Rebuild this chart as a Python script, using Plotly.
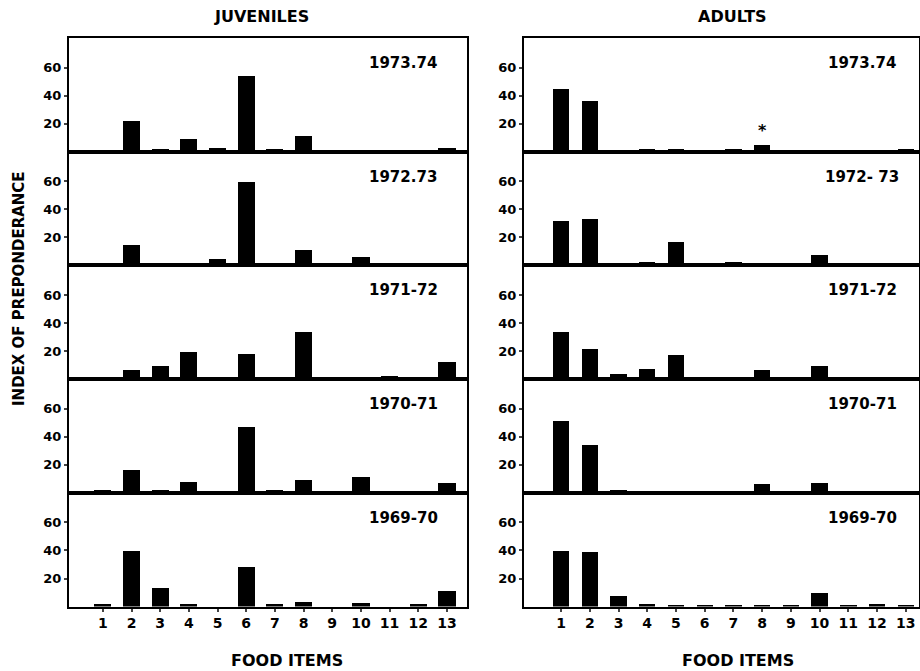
import plotly.graph_objects as go

food_items = list(range(1, 14))
tick_labels = [str(i) for i in food_items]
years_juv = ["1973.74", "1972.73", "1971-72", "1970-71", "1969-70"]
years_adu = ["1973.74", "1972- 73", "1971-72", "1970-71", "1969-70"]

juv_1973_74 = [1.5, 22, 2, 9, 3, 54, 2, 11, 0, 0, 0, 0, 3]
juv_1972_73 = [1.5, 15, 0, 1.5, 5, 60, 1.5, 11, 0, 6, 0, 0, 2]
juv_1971_72 = [1.5, 6, 9, 19, 1, 18, 1, 33, 0, 1.5, 2, 0, 12]
juv_1970_71 = [2, 16, 2, 8, 0, 47, 2, 9, 0, 11, 0, 0, 7]
juv_1969_70 = [2, 40, 13.5, 2, 0, 28, 2, 3.5, 0, 2.5, 0, 2, 11]

adu_1973_74 = [45, 36, 0.5, 2, 2, 1, 2, 5, 0, 0.7, 0, 0, 2]
adu_1972_73 = [32, 33, 1, 2.5, 17, 1.5, 2.5, 1, 0, 8, 1, 0, 1]
adu_1971_72 = [33, 21, 3.5, 7, 17, 1.5, 1, 6, 0, 9, 1.5, 0, 1]
adu_1970_71 = [51, 34, 2, 1, 1, 1.5, 1.5, 6, 1.5, 7, 1, 0, 1.5]
adu_1969_70 = [40, 39, 8, 2, 1.5, 1.5, 1.5, 1.5, 1.5, 10, 1, 2, 1.5]

juveniles = [juv_1973_74, juv_1972_73, juv_1971_72, juv_1970_71, juv_1969_70]
adults = [adu_1973_74, adu_1972_73, adu_1971_72, adu_1970_71, adu_1969_70]

W, H = 920, 671
top_px = 38.0
panel_h = 113.7
left_dom = [69 / W, 467 / W]
right_dom = [524 / W, 919 / W]

FONT = "DejaVu Sans"

fig = go.Figure()
layout = dict(
    width=W, height=H,
    margin=dict(l=0, r=0, t=0, b=0),
    paper_bgcolor="white", plot_bgcolor="white",
    showlegend=False,
    font=dict(family=FONT, color="black", size=13, weight="bold"),
    bargap=0,
)
annotations = []

idx = 0
for col, (groups, years, dom, xr, bw) in enumerate([
    (juveniles, years_juv, left_dom, [-0.18, 13.7], 0.6),
    (adults, years_adu, right_dom, [-0.29, 13.46], 0.57),
]):
    for k in range(5):
        idx += 1
        xa = "x" if idx == 1 else f"x{idx}"
        ya = "y" if idx == 1 else f"y{idx}"
        xkey = "xaxis" if idx == 1 else f"xaxis{idx}"
        ykey = "yaxis" if idx == 1 else f"yaxis{idx}"
        fig.add_trace(go.Bar(
            x=food_items, y=groups[k], xaxis=xa, yaxis=ya,
            width=bw, marker=dict(color="black", line=dict(width=0)),
        ))
        ptop = top_px + panel_h * k
        pbot = ptop + panel_h
        bottom = (k == 4)
        layout[xkey] = dict(
            domain=dom, range=xr, anchor=ya,
            showgrid=False, zeroline=False,
            showline=True, linecolor="black", linewidth=2, mirror=True,
            tickmode="array", tickvals=food_items,
            ticktext=tick_labels if bottom else [""] * 13,
            ticks="outside" if bottom else "", ticklen=3, tickwidth=1.5,
            tickfont=dict(family=FONT, size=14, weight="bold", color="black"),
            showticklabels=bottom,
        )
        layout[ykey] = dict(
            domain=[1 - pbot / H, 1 - ptop / H], range=[0, 81.2], anchor=xa,
            showgrid=False, zeroline=False,
            showline=True, linecolor="black", linewidth=2, mirror=True,
            tickmode="array", tickvals=[20, 40, 60], ticktext=["20", "40", "60"],
            ticks="outside", ticklen=3, tickwidth=1.5,
            tickfont=dict(family=FONT, size=13, weight="bold", color="black"),
        )
        annotations.append(dict(
            text=years[k], xref="paper", yref="paper",
            x=(403 if col == 0 else 862) / W, y=1 - (ptop + 25) / H,
            showarrow=False, xanchor="center", yanchor="middle",
            font=dict(family=FONT, size=15, weight="bold", color="black"),
        ))

# asterisk over adult 1973-74 item 8
annotations.append(dict(text="*", xref="x6", yref="y6", x=8, y=15,
                        showarrow=False,
                        font=dict(family=FONT, size=16, weight="bold", color="black")))

for txt, xc in [("JUVENILES", 261), ("ADULTS", 732)]:
    annotations.append(dict(text=txt, xref="paper", yref="paper", x=xc / W, y=1 - 17 / H,
                            showarrow=False, xanchor="center", yanchor="middle",
                            font=dict(family=FONT, size=16, weight="bold", color="black")))
for txt, xc in [("FOOD ITEMS", 287), ("FOOD ITEMS", 738)]:
    annotations.append(dict(text=txt, xref="paper", yref="paper", x=xc / W, y=1 - 660 / H,
                            showarrow=False, xanchor="center", yanchor="middle",
                            font=dict(family=FONT, size=16, weight="bold", color="black")))
annotations.append(dict(text="INDEX OF PREPONDERANCE", xref="paper", yref="paper",
                        x=19 / W, y=1 - 289 / H, textangle=-90,
                        showarrow=False, xanchor="center", yanchor="middle",
                        font=dict(family=FONT, size=15, weight="bold", color="black")))

layout["annotations"] = annotations
fig.update_layout(**layout)
fig.write_html("out.html",
               config={"displayModeBar": False},
               post_script="document.body.style.margin='0';document.body.style.overflow='hidden';")
